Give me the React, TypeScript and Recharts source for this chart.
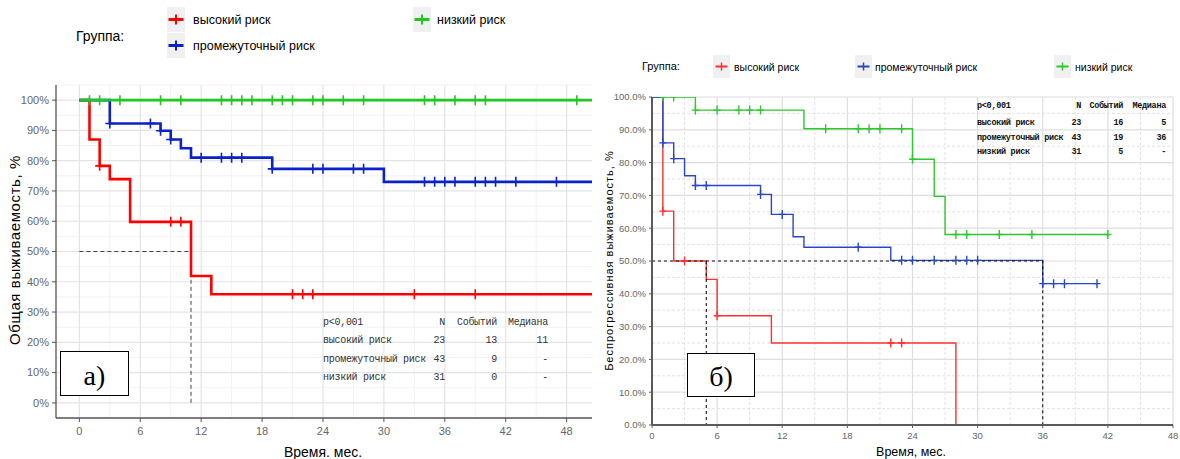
import React from 'react';
import { ComposedChart, Line, Scatter, XAxis, YAxis, CartesianGrid } from 'recharts';

// ---------- Panel а) overall survival ----------
const osHighTime = [0, 1, 2, 3, 5, 11, 13, 50.5];
const osHighSurv = [100, 87.0, 78.3, 73.9, 59.8, 41.9, 35.9, 35.9];
const osHighCensor = [2, 9, 10, 21, 22, 23, 33, 39];

const osMidTime = [0, 3, 8, 9, 10, 11, 19, 30, 50.5];
const osMidSurv = [100, 92.3, 89.9, 87.0, 84.1, 81.0, 77.3, 73.0, 73.0];
const osMidCensor = [3, 7, 8, 9, 12, 14, 15, 16, 19, 23, 24, 27, 28, 34, 35, 36, 37, 39, 40, 41, 43, 47];

const osLowTime = [0, 50.5];
const osLowSurv = [100, 100];
const osLowCensor = [1, 2, 4, 8, 10, 14, 15, 16, 17, 19, 20, 21, 23, 24, 26, 28, 34, 35, 37, 39, 40, 49];

const osMedianTime = [0, 11, 11];
const osMedianSurv = [50, 50, 0];

// ---------- Panel б) progression-free survival ----------
const pfsHighTime = [0, 1, 2, 5, 6, 11, 28];
const pfsHighSurv = [100, 65.2, 50.0, 44.4, 33.3, 25.0, 0];
const pfsHighCensor = [1, 3, 6, 22, 23];

const pfsMidTime = [0, 1, 2, 3, 4, 10, 11, 13, 14, 22, 36, 41];
const pfsMidSurv = [100, 86.0, 81.2, 76.0, 73.0, 70.3, 64.2, 57.4, 54.2, 50.2, 43.1, 43.1];
const pfsMidCensor = [1, 2, 4, 5, 10, 12, 19, 23, 24, 26, 28, 29, 30, 36, 37, 38, 41];

const pfsLowTime = [0, 4, 14, 24, 26, 27, 42];
const pfsLowSurv = [100, 96.0, 90.3, 81.0, 69.7, 58.1, 58.1];
const pfsLowCensor = [1, 2, 4, 6, 8, 9, 10, 16, 19, 20, 21, 23, 24, 28, 29, 32, 35, 42];

const pfsMedianTime1 = [0, 36, 36];
const pfsMedianSurv1 = [50, 50, 0];
const pfsMedianTime2 = [5, 5];
const pfsMedianSurv2 = [50, 0];

// ---------- ticks / labels ----------
const osXTicks = [0, 6, 12, 18, 24, 30, 36, 42, 48];
const osXMinor = [3, 9, 15, 21, 27, 33, 39, 45];
const osYTicks = [0, 10, 20, 30, 40, 50, 60, 70, 80, 90, 100];
const osYMinor = [-5, 5, 15, 25, 35, 45, 55, 65, 75, 85, 95, 105];
const pfsXTicks = [0, 6, 12, 18, 24, 30, 36, 42, 48];
const pfsXMinor = [3, 9, 15, 21, 27, 33, 39, 45];
const pfsYTicks = [0, 10, 20, 30, 40, 50, 60, 70, 80, 90, 100];
const pfsYMinor = [5, 15, 25, 35, 45, 55, 65, 75, 85, 95];

const groupNames = ['высокий риск', 'промежуточный риск', 'низкий риск'];
const osTableN = ['23', '43', '31'];
const osTableEvents = ['13', '9', '0'];
const osTableMedian = ['11', '-', '-'];
const pfsTableN = ['23', '43', '31'];
const pfsTableEvents = ['16', '19', '5'];
const pfsTableMedian = ['5', '36', '-'];

const toPts = (t: number[], s: number[]) => t.map((x, i) => ({ x, y: s[i] }));
const censorPts = (c: number[], t: number[], s: number[]) =>
  c.map((x) => {
    let idx = 0;
    for (let i = 0; i < t.length; i++) if (t[i] <= x) idx = i;
    return { x, y: s[idx] };
  });

const plus = (color: string, h: number, w: number, sw: number) => (props: any) => {
  const { cx, cy } = props;
  if (cx == null || cy == null) return <g />;
  return (
    <path
      d={`M${cx - w / 2},${cy}H${cx + w / 2}M${cx},${cy - h / 2}V${cy + h / 2}`}
      stroke={color}
      strokeWidth={sw}
      fill="none"
    />
  );
};

const NARROW = "'Liberation Sans Narrow', 'Liberation Sans', Arial, sans-serif";
const SANS = "'Liberation Sans', Arial, sans-serif";
const MONO = "'Liberation Mono', 'DejaVu Sans Mono', monospace";
const SERIF = "'Liberation Serif', 'Times New Roman', serif";

const OS_RED = '#ff0000';
const OS_BLUE = '#0a22c8';
const OS_GREEN = '#1ec81e';
const P_RED = '#ff3030';
const P_BLUE = '#2846c8';
const P_GREEN = '#2ec82e';

function Txt({ x, y, children, size, family, color = '#000', anchor = 'start', spacing = 0, weight = 400 }: any) {
  const w = 300;
  const left = anchor === 'start' ? x : anchor === 'end' ? x - w : x - w / 2;
  return (
    <div
      style={{
        position: 'absolute',
        left,
        top: y - size * 0.6,
        width: w,
        height: size * 1.2,
        lineHeight: `${size * 1.2}px`,
        fontSize: size,
        fontFamily: family,
        color,
        textAlign: anchor === 'start' ? 'left' : anchor === 'end' ? 'right' : 'center',
        letterSpacing: spacing,
        fontWeight: weight,
        whiteSpace: 'pre',
      }}
    >
      {children}
    </div>
  );
}

function Key({ x, y, w, h, color, armW, armT, crossH, crossT }: any) {
  return (
    <svg style={{ position: 'absolute', left: x, top: y }} width={w} height={h}>
      <rect x={0} y={0} width={w} height={h} fill="#f0f0f0" />
      <line x1={w / 2 - armW / 2} x2={w / 2 + armW / 2} y1={h / 2} y2={h / 2} stroke={color} strokeWidth={armT} />
      <line x1={w / 2} x2={w / 2} y1={h / 2 - crossH / 2} y2={h / 2 + crossH / 2} stroke={color} strokeWidth={crossT} />
    </svg>
  );
}

function VText({ cx, cy, children, size, family, spacing = 0 }: any) {
  const w = 400;
  return (
    <div
      style={{
        position: 'absolute',
        left: cx - w / 2,
        top: cy - size * 0.6,
        width: w,
        height: size * 1.2,
        lineHeight: `${size * 1.2}px`,
        fontSize: size,
        fontFamily: family,
        textAlign: 'center',
        transform: 'rotate(-90deg)',
        letterSpacing: spacing,
        color: '#000',
        whiteSpace: 'pre',
      }}
    >
      {children}
    </div>
  );
}

function PanelBox({ left, top, width, height, label, size }: any) {
  return (
    <div
      style={{
        position: 'absolute',
        left,
        top,
        width,
        height,
        border: '1.5px solid #000',
        background: '#fff',
        boxSizing: 'border-box',
        display: 'flex',
        alignItems: 'center',
        justifyContent: 'center',
        fontFamily: SERIF,
        fontSize: size,
        lineHeight: `${size}px`,
        color: '#000',
        paddingTop: 4,
      }}
    >
      {label}
    </div>
  );
}

export default function App() {
  const osTick = { fontSize: 11, fill: '#666', fontFamily: SANS };
  const pfsTick = { fontSize: 9.5, fill: '#666', fontFamily: NARROW };

  return (
    <div style={{ position: 'absolute', left: 0, top: 0, width: 1180, height: 459, background: '#fff', overflow: 'hidden' }}>
      {/* ---------------- Panel а) ---------------- */}
      <ComposedChart
        width={600}
        height={459}
        margin={{ top: 85, right: 8, left: 0, bottom: 11 }}
        style={{ position: 'absolute', left: 0, top: 0 }}
      >
        <CartesianGrid horizontalValues={osYMinor} verticalValues={osXMinor} stroke="#f2f2f2" strokeWidth={1} />
        <CartesianGrid horizontalValues={osYTicks} verticalValues={osXTicks} stroke="#e4e4e4" strokeWidth={1.2} />
        <XAxis
          type="number"
          dataKey="x"
          domain={[-2.3, 50.5]}
          ticks={osXTicks}
          allowDataOverflow
          height={30}
          tick={osTick}
          tickSize={4}
          tickMargin={5}
          axisLine={{ stroke: '#555', strokeWidth: 1.3 }}
          tickLine={{ stroke: '#555' }}
        />
        <YAxis
          type="number"
          dataKey="y"
          domain={[-5, 105]}
          ticks={osYTicks}
          allowDataOverflow
          width={56}
          tick={osTick}
          tickSize={4}
          tickMargin={3}
          tickFormatter={(v: number) => `${v}%`}
          axisLine={{ stroke: '#555', strokeWidth: 1.3 }}
          tickLine={{ stroke: '#555' }}
        />
        <Line data={toPts(osMedianTime, osMedianSurv)} dataKey="y" type="linear" stroke="#444" strokeWidth={1} strokeDasharray="4 3" dot={false} isAnimationActive={false} />
        <Line data={toPts(osHighTime, osHighSurv)} dataKey="y" type="stepAfter" stroke={OS_RED} strokeWidth={2.6} dot={false} isAnimationActive={false} />
        <Line data={toPts(osMidTime, osMidSurv)} dataKey="y" type="stepAfter" stroke={OS_BLUE} strokeWidth={2.6} dot={false} isAnimationActive={false} />
        <Line data={toPts(osLowTime, osLowSurv)} dataKey="y" type="stepAfter" stroke={OS_GREEN} strokeWidth={2.6} dot={false} isAnimationActive={false} />
        <Scatter data={censorPts(osHighCensor, osHighTime, osHighSurv)} dataKey="y" shape={plus(OS_RED, 10, 9, 1.6)} isAnimationActive={false} />
        <Scatter data={censorPts(osMidCensor, osMidTime, osMidSurv)} dataKey="y" shape={plus(OS_BLUE, 10, 9, 1.6)} isAnimationActive={false} />
        <Scatter data={censorPts(osLowCensor, osLowTime, osLowSurv)} dataKey="y" shape={plus(OS_GREEN, 10, 9, 1.6)} isAnimationActive={false} />
      </ComposedChart>

      {/* ---------------- Panel б) ---------------- */}
      <ComposedChart
        width={580}
        height={459}
        margin={{ top: 97, right: 7, left: 0, bottom: 12 }}
        style={{ position: 'absolute', left: 600, top: 0 }}
      >
        <CartesianGrid horizontalValues={pfsYMinor} verticalValues={pfsXMinor} stroke="#e2e2e2" strokeWidth={1} strokeDasharray="3 2" />
        <CartesianGrid horizontalValues={pfsYTicks} verticalValues={pfsXTicks} stroke="#dedede" strokeWidth={1.2} />
        <XAxis
          type="number"
          dataKey="x"
          domain={[0, 48]}
          ticks={pfsXTicks}
          allowDataOverflow
          height={22}
          tick={pfsTick}
          tickSize={3}
          tickMargin={4}
          axisLine={{ stroke: '#5a5a5a', strokeWidth: 2 }}
          tickLine={{ stroke: '#5a5a5a' }}
        />
        <YAxis
          type="number"
          dataKey="y"
          domain={[0, 100]}
          ticks={pfsYTicks}
          allowDataOverflow
          width={52}
          tick={pfsTick}
          tickSize={3}
          tickMargin={3}
          tickFormatter={(v: number) => `${v.toFixed(1)}%`}
          axisLine={{ stroke: '#5a5a5a', strokeWidth: 2 }}
          tickLine={{ stroke: '#5a5a5a' }}
        />
        <Line data={toPts(pfsHighTime, pfsHighSurv)} dataKey="y" type="stepAfter" stroke={P_RED} strokeWidth={1.4} dot={false} isAnimationActive={false} />
        <Line data={toPts(pfsLowTime, pfsLowSurv)} dataKey="y" type="stepAfter" stroke={P_GREEN} strokeWidth={1.4} dot={false} isAnimationActive={false} />
        <Line data={toPts(pfsMidTime, pfsMidSurv)} dataKey="y" type="stepAfter" stroke={P_BLUE} strokeWidth={1.4} dot={false} isAnimationActive={false} />
        <Line data={toPts(pfsMedianTime1, pfsMedianSurv1)} dataKey="y" type="linear" stroke="#111" strokeWidth={1.1} strokeDasharray="3 3" dot={false} isAnimationActive={false} />
        <Line data={toPts(pfsMedianTime2, pfsMedianSurv2)} dataKey="y" type="linear" stroke="#111" strokeWidth={1.1} strokeDasharray="3 3" dot={false} isAnimationActive={false} />
        <Scatter data={censorPts(pfsHighCensor, pfsHighTime, pfsHighSurv)} dataKey="y" shape={plus(P_RED, 9, 7, 1.4)} isAnimationActive={false} />
        <Scatter data={censorPts(pfsLowCensor, pfsLowTime, pfsLowSurv)} dataKey="y" shape={plus(P_GREEN, 9, 7, 1.4)} isAnimationActive={false} />
        <Scatter data={censorPts(pfsMidCensor, pfsMidTime, pfsMidSurv)} dataKey="y" shape={plus(P_BLUE, 9, 7, 1.4)} isAnimationActive={false} />
      </ComposedChart>

      {/* ---------------- Legends ---------------- */}
      <Txt x={76} y={36} size={14} family={NARROW}>Группа:</Txt>
      <Key x={167} y={7} w={18} h={25} color={OS_RED} armW={15} armT={3} crossH={10} crossT={2} />
      <Key x={167} y={33} w={18} h={25} color={OS_BLUE} armW={15} armT={3} crossH={10} crossT={2} />
      <Key x={413} y={7} w={18} h={25} color={OS_GREEN} armW={15} armT={3} crossH={10} crossT={2} />
      <Txt x={193} y={20.5} size={12.5} family={NARROW}>{groupNames[0]}</Txt>
      <Txt x={193} y={46.5} size={12.5} family={NARROW}>{groupNames[1]}</Txt>
      <Txt x={437} y={20.5} size={12.5} family={NARROW}>{groupNames[2]}</Txt>

      <Txt x={642} y={67} size={11} family={NARROW}>Группа:</Txt>
      <Key x={713} y={55} w={17} h={23} color={P_RED} armW={12} armT={2} crossH={8} crossT={1.5} />
      <Key x={855} y={55} w={17} h={23} color={P_BLUE} armW={12} armT={2} crossH={8} crossT={1.5} />
      <Key x={1054} y={55} w={17} h={23} color={P_GREEN} armW={12} armT={2} crossH={8} crossT={1.5} />
      <Txt x={734} y={67} size={10.5} family={NARROW}>{groupNames[0]}</Txt>
      <Txt x={875} y={67} size={10.5} family={NARROW}>{groupNames[1]}</Txt>
      <Txt x={1075} y={67} size={10.5} family={NARROW}>{groupNames[2]}</Txt>

      {/* ---------------- Axis titles ---------------- */}
      <VText cx={15} cy={250} size={15} family={SANS} spacing={0.6}>Общая выживаемость, %</VText>
      <Txt x={323} y={452} size={14} family={NARROW} anchor="middle">Время. мес.</Txt>
      <VText cx={610} cy={261} size={11} family={SANS} spacing={1}>Беспрогрессивная выживаемость, %</VText>
      <Txt x={911} y={452} size={12.5} family={NARROW} anchor="middle">Время, мес.</Txt>

      {/* ---------------- Tables ---------------- */}
      <Txt x={323} y={323} size={10} family={MONO} color="#333" spacing={-0.28}>p&lt;0,001</Txt>
      <Txt x={445} y={323} size={10} family={MONO} color="#333" anchor="end" spacing={-0.28}>N</Txt>
      <Txt x={497} y={323} size={10} family={MONO} color="#333" anchor="end" spacing={-0.28}>Событий</Txt>
      <Txt x={548} y={323} size={10} family={MONO} color="#333" anchor="end" spacing={-0.28}>Медиана</Txt>
      {groupNames.map((g, i) => (
        <React.Fragment key={'os' + i}>
          <Txt x={323} y={341 + i * 18.6} size={10} family={MONO} color="#333" spacing={-0.28}>{g}</Txt>
          <Txt x={445} y={341 + i * 18.6} size={10} family={MONO} color="#333" anchor="end" spacing={-0.28}>{osTableN[i]}</Txt>
          <Txt x={497} y={341 + i * 18.6} size={10} family={MONO} color="#333" anchor="end" spacing={-0.28}>{osTableEvents[i]}</Txt>
          <Txt x={548} y={341 + i * 18.6} size={10} family={MONO} color="#333" anchor="end" spacing={-0.28}>{osTableMedian[i]}</Txt>
        </React.Fragment>
      ))}

      <Txt x={977} y={106.5} size={8.5} family={MONO} color="#111" spacing={-0.3} weight={700}>p&lt;0,001</Txt>
      <Txt x={1081} y={106.5} size={8.5} family={MONO} color="#111" anchor="end" spacing={-0.3} weight={700}>N</Txt>
      <Txt x={1123} y={106.5} size={8.5} family={MONO} color="#111" anchor="end" spacing={-0.3} weight={700}>Событий</Txt>
      <Txt x={1166} y={106.5} size={8.5} family={MONO} color="#111" anchor="end" spacing={-0.3} weight={700}>Медиана</Txt>
      {groupNames.map((g, i) => (
        <React.Fragment key={'pfs' + i}>
          <Txt x={977} y={123.3 + i * 14.5} size={8.5} family={MONO} color="#111" spacing={-0.3} weight={700}>{g}</Txt>
          <Txt x={1081} y={123.3 + i * 14.5} size={8.5} family={MONO} color="#111" anchor="end" spacing={-0.3} weight={700}>{pfsTableN[i]}</Txt>
          <Txt x={1123} y={123.3 + i * 14.5} size={8.5} family={MONO} color="#111" anchor="end" spacing={-0.3} weight={700}>{pfsTableEvents[i]}</Txt>
          <Txt x={1166} y={123.3 + i * 14.5} size={8.5} family={MONO} color="#111" anchor="end" spacing={-0.3} weight={700}>{pfsTableMedian[i]}</Txt>
        </React.Fragment>
      ))}

      {/* ---------------- Panel labels ---------------- */}
      <PanelBox left={60} top={351} width={69} height={45} label="а)" size={28} />
      <PanelBox left={687} top={353} width={68} height={44} label="б)" size={28} />
    </div>
  );
}
